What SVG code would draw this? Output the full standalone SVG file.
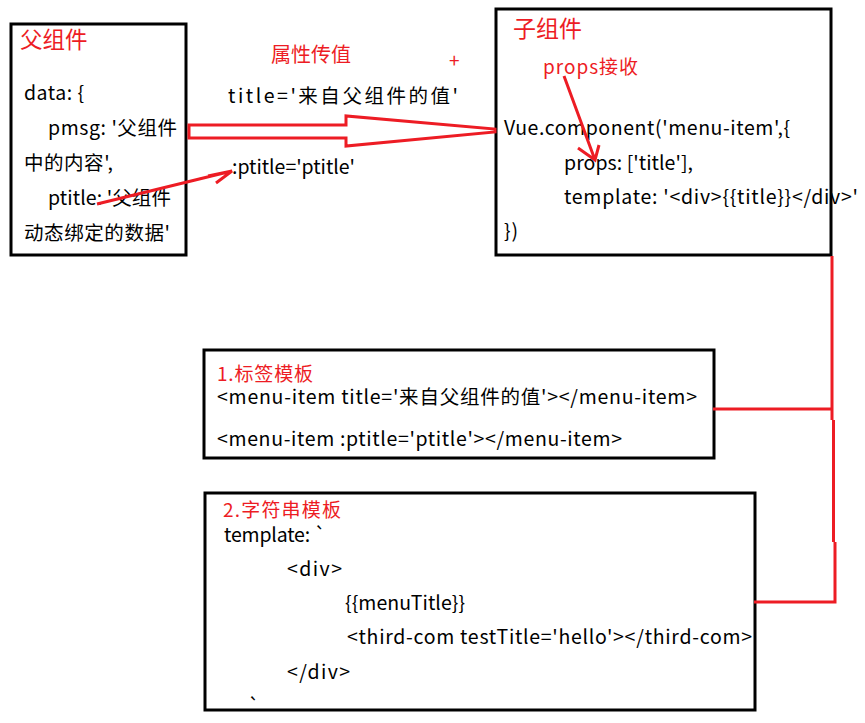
<svg xmlns="http://www.w3.org/2000/svg" width="865" height="723" viewBox="0 0 865 723">
<style>
.box{fill:#fff;stroke:#000;stroke-width:3}
.t{font-family:"Noto Sans CJK SC","Noto Sans",sans-serif;fill:#000;font-size:19.5px}
.r{font-family:"Noto Sans CJK SC","Noto Sans",sans-serif;fill:#ed1c24}
.ln{fill:none;stroke:#ed1c24;stroke-width:3}
</style>
<rect width="865" height="723" fill="#fff"/>
<g id="parent">
<rect class="box" x="11" y="24" width="175" height="231"/>
<text class="r" x="20" y="48" font-size="22.5">父组件</text>
<text class="t" x="24" y="100" textLength="60">data: {</text>
<text class="t" x="48" y="135" textLength="129">pmsg: '父组件</text>
<text class="t" x="24" y="170" textLength="89">中的内容',</text>
<text class="t" x="48" y="205" textLength="123">ptitle: '父组件</text>
<text class="t" x="24" y="240" textLength="146">动态绑定的数据'</text>
</g>
<g id="child">
<rect class="box" x="496" y="9" width="335" height="246"/>
<text class="r" x="513" y="37" font-size="23">子组件</text>
<text class="r" x="543" y="74" font-size="19" textLength="95">props接收</text>
<text class="t" x="504" y="135" textLength="286">Vue.component('menu-item',{</text>
<text class="t" x="564" y="170" textLength="129">props: ['title'],</text>
<text class="t" x="564" y="204" textLength="294">template: '&lt;div&gt;{{title}}&lt;/div&gt;'</text>
<text class="t" x="504" y="238" textLength="14">})</text>
</g>
<g id="tag-template">
<rect class="box" x="204" y="350" width="510" height="108"/>
<text class="r" x="217" y="381" font-size="19" textLength="96">1.标签模板</text>
<text class="t" x="217" y="404" textLength="480">&lt;menu-item title='来自父组件的值'&gt;&lt;/menu-item&gt;</text>
<text class="t" x="217" y="446" textLength="405">&lt;menu-item :ptitle='ptitle'&gt;&lt;/menu-item&gt;</text>
</g>
<g id="string-template">
<rect class="box" x="205" y="493" width="550" height="217"/>
<text class="r" x="223" y="517" font-size="19" textLength="118">2.字符串模板</text>
<text class="t" x="224" y="542" textLength="102">template: `</text>
<text class="t" x="287" y="576" textLength="55">&lt;div&gt;</text>
<text class="t" x="345" y="610" textLength="120">{{menuTitle}}</text>
<text class="t" x="347" y="644" textLength="405">&lt;third-com testTitle='hello'&gt;&lt;/third-com&gt;</text>
<text class="t" x="287" y="679" textLength="63">&lt;/div&gt;</text>
<text class="t" x="248" y="713">`</text>
</g>
<g id="labels">
<text class="r" x="271" y="62" font-size="20" textLength="80">属性传值</text>
<text class="r" x="449" y="68" font-size="19">+</text>
<text class="t" x="228" y="103" font-size="22" textLength="230">title='来自父组件的值'</text>
<text class="t" x="232" y="174" textLength="123">:ptitle='ptitle'</text>
</g>
<g id="connectors">
<path class="ln" d="M189,125 H346 V116 L495,129 V132 L346,146 V138 H189 Z"/>
<path class="ln" d="M97,204 L232,171 M208,176 L232,171 L216,183"/>
<path class="ln" d="M564,76 L595,160 M578,148 L595,160 L599,145"/>
<path class="ln" d="M832,256 V420 M833.5,420 V542 M835,542 V602 H754 M713,409 H833"/>
</g>
</svg>
